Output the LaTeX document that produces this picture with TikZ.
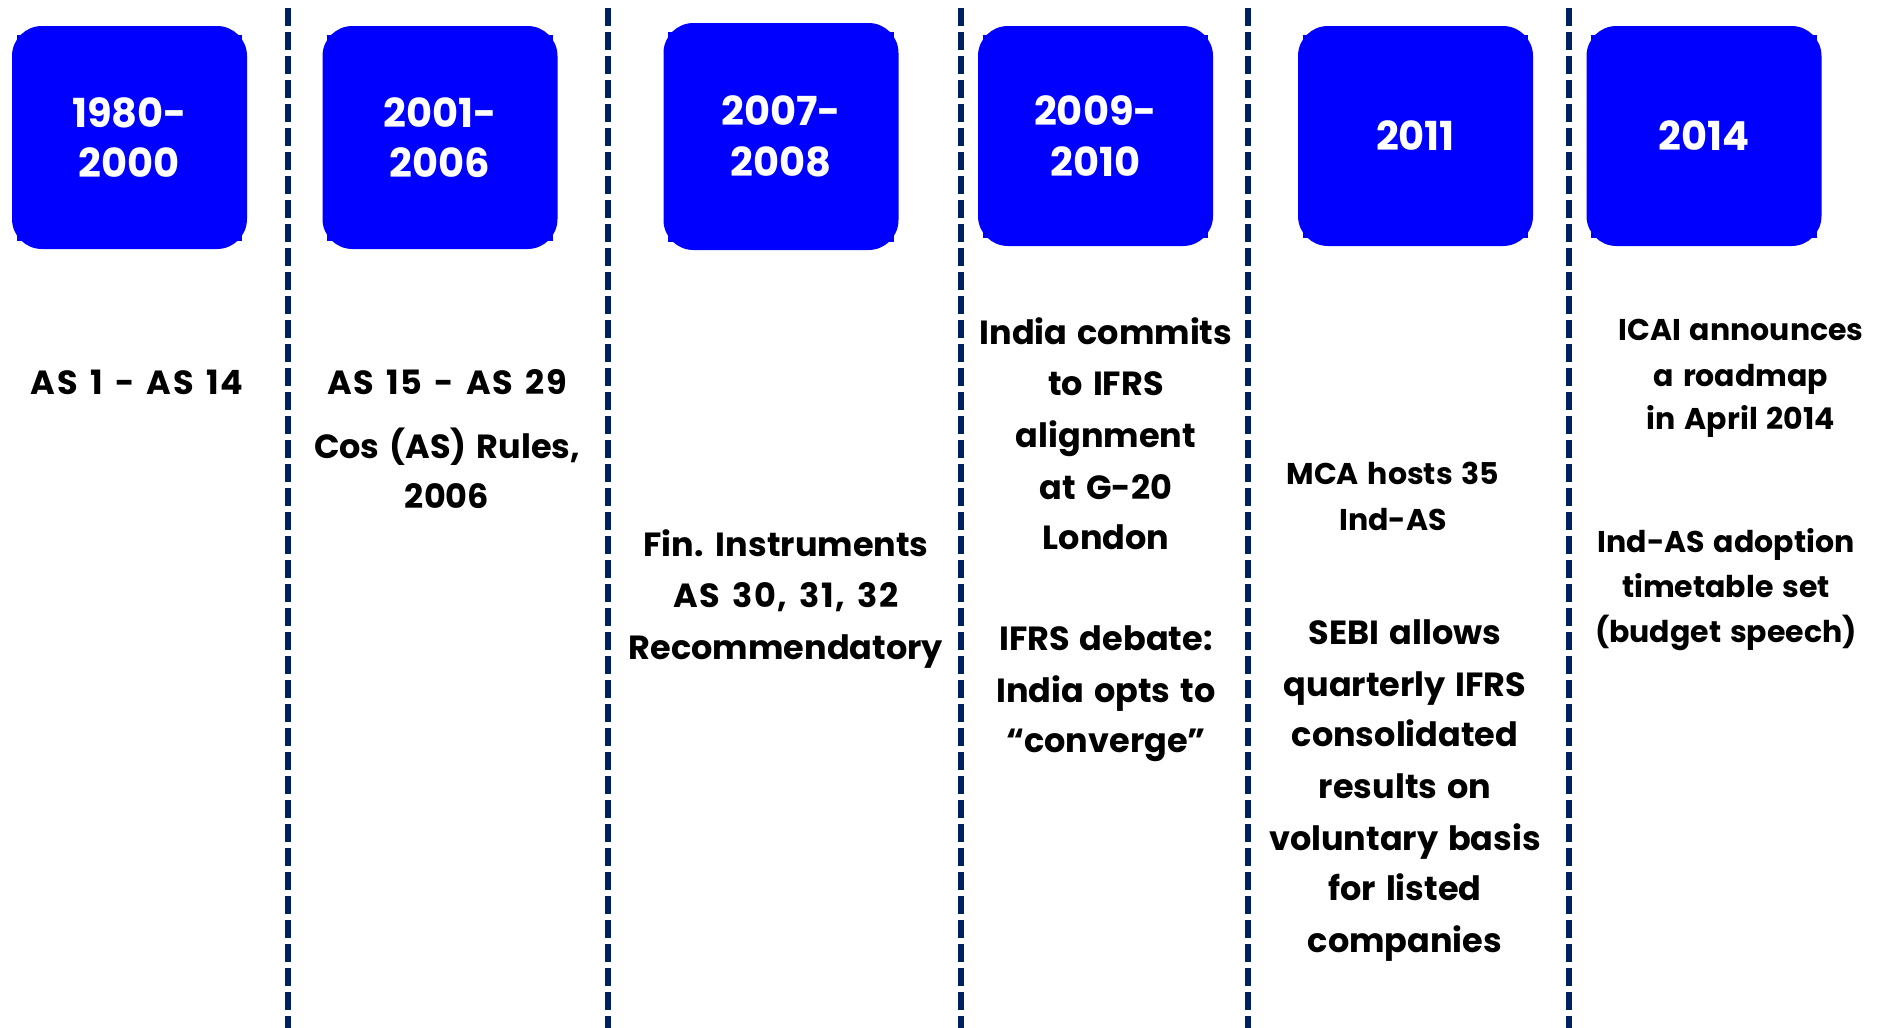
\documentclass[tikz,border=0pt]{standalone}
\usepackage{fontspec}
\setmainfont{Poppins}[Numbers=Monospaced, WordSpace=1.4]
\usetikzlibrary{calc}
\definecolor{boxblue}{RGB}{0,0,255}
\definecolor{navy}{RGB}{0,32,96}
\begin{document}
\begin{tikzpicture}[x=1pt,y=-1pt,
  yearbox/.style={fill=boxblue, rounded corners=30pt, minimum width=235pt, minimum height=223pt,
    inner sep=0pt, text=white, font=\fontsize{40}{50.5}\selectfont\bfseries, align=center},
  body/.style={anchor=base, inner sep=0pt, font=\fontsize{33.5}{40}\selectfont\bfseries},
  numbody/.style={body, font=\fontsize{33.5}{40}\selectfont\bfseries\addfontfeatures{LetterSpace=5}},
  small/.style={body, font=\fontsize{30}{36}\selectfont\bfseries},
  sep/.style={draw=navy, line width=6pt, dash pattern=on 17.7pt off 6.3pt}]
\useasboundingbox (0,0) rectangle (1885,1028);
% separators
\foreach \i/\x in {1/288.3,2/608,3/960.5,4/1248,5/1569}{
  \coordinate (s\i t) at (\x,8);
  \coordinate (s\i b) at (\x,1028);
  \draw[sep] (s\i t) -- (s\i b);
}
% year boxes
\node[yearbox] (b1) at (129.5,137.5) {1980-\\2000};
\node[yearbox] (b2) at (440,137.5) {2001-\\2006};
\node[yearbox, minimum height=227pt] (b3) at (781,136.5) {2007-\\2008};
\node[yearbox, minimum height=220pt] (b4) at (1095.5,136) {2009-\\2010};
\node[yearbox, minimum height=220pt] (b5) at (1415.5,136) {2011};
\node[yearbox, minimum height=220pt] (b6) at (1704,136) {2014};
\foreach \b in {b1,b2,b3,b4,b5,b6}{
  \fill[boxblue] ($(\b.north west)+(5,9)$) rectangle +(5,9);
  \fill[boxblue] ($(\b.north east)+(-10,9)$) rectangle +(5,9);
  \fill[boxblue] ($(\b.south west)+(5,-17)$) rectangle +(5,9);
  \fill[boxblue] ($(\b.south east)+(-10,-17)$) rectangle +(5,9);
}
% column 1
\node[numbody] (t1a) at (137,394) {AS 1 - AS 14};
% column 2
\node[numbody] (t2a) at (447,394) {AS 15 - AS 29};
\node[body] (t2b) at (447,458) {Cos (AS) Rules,};
\node[body] (t2c) at (447,508) {2006};
% column 3
\node[body] (t3a) at (786,556) {Fin. Instruments};
\node[numbody] (t3b) at (786,607) {AS 30, 31, 32};
\node[body] (t3c) at (786,659) {Recommendatory};
% column 4
\node[body] (t4a) at (1106,344) {India commits};
\node[body] (t4b) at (1106,395) {to IFRS};
\node[body] (t4c) at (1106,447) {alignment};
\node[body] (t4d) at (1106,499) {at G-20};
\node[body] (t4e) at (1106,549) {London};
\node[body] (t4f) at (1106,650) {IFRS debate:};
\node[body] (t4g) at (1106,702) {India opts to};
\node[body] (t4h) at (1106,752) {“converge”};
% column 5
\node[small] (t5a) at (1393,484) {MCA hosts 35};
\node[small] (t5b) at (1393,530) {Ind-AS};
\node[body] (t5c) at (1405,644) {SEBI allows};
\node[body] (t5d) at (1405,696) {quarterly IFRS};
\node[body] (t5e) at (1405,746) {consolidated};
\node[body] (t5f) at (1405,798) {results on};
\node[body] (t5g) at (1405,850) {voluntary basis};
\node[body] (t5h) at (1405,900) {for listed};
\node[body] (t5i) at (1405,952) {companies};
% column 6
\node[small] (t6a) at (1741,340) {ICAI announces};
\node[small] (t6b) at (1741,386) {a roadmap};
\node[small] (t6c) at (1741,429) {in April 2014};
\node[small] (t6d) at (1726,552) {Ind-AS adoption};
\node[small] (t6e) at (1726,597) {timetable set};
\node[small] (t6f) at (1726,642) {(budget speech)};
\end{tikzpicture}
\end{document}
